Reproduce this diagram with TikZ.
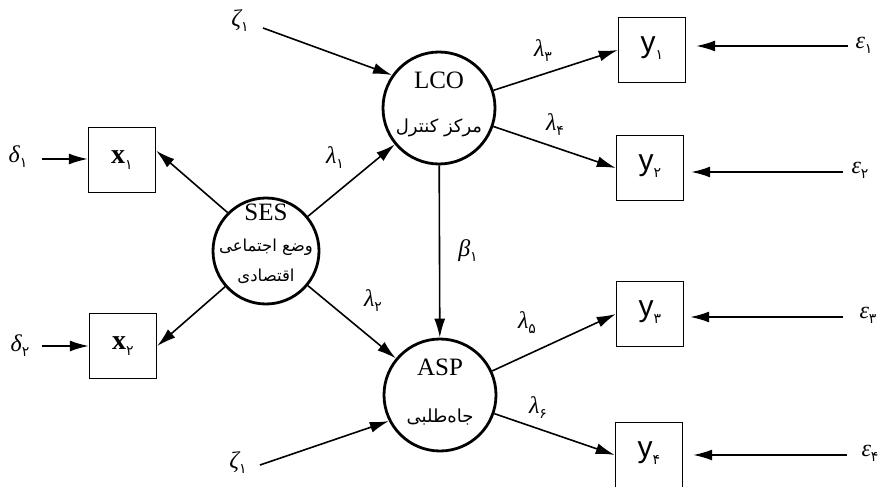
\documentclass[tikz,border=0pt]{standalone}
\usepackage{fontspec}
\setmainfont{Liberation Serif}
\newfontfamily\fa[Script=Arabic]{DejaVu Sans}
\newfontfamily\ysans{Liberation Sans}
\TeXXeTstate=1
\usetikzlibrary{arrows.meta,calc}
\newcommand\fsub[1]{\raisebox{-0.45ex}{\normalfont\fa\fontsize{14}{14}\selectfont #1}}
\tikzset{
 arr/.style={line width=1.6pt, -{Latex[length=19pt,width=11pt]}},
 lat/.style={circle, draw, line width=2.8pt, minimum size=112pt, inner sep=0pt},
 obs/.style={draw, line width=1.4pt, minimum width=67pt, minimum height=65pt, inner sep=0pt},
 gr/.style={font=\fontsize{24}{26}\selectfont\itshape, inner sep=0pt},
 lbl/.style={font=\fontsize{25}{27}\selectfont, inner sep=0pt},
 fatxt/.style={font=\fa\fontsize{18}{20}\selectfont, inner sep=0pt},
 fasm/.style={font=\fa\fontsize{16.5}{18}\selectfont, inner sep=0pt},
 xlab/.style={font=\fontsize{28}{30}\selectfont\bfseries, inner sep=0pt},
 ylab/.style={font=\ysans\fontsize{30}{32}\selectfont, inner sep=0pt},
}
\begin{document}
\begin{tikzpicture}[x=1pt,y=-1pt]
\path[use as bounding box, fill=white] (0,0) rectangle (884,487);
% latent variables
\node[lat] (lco) at (439,108) {};
\node[lat] (asp) at (440,395) {};
\node[lat, minimum size=106pt] (ses) at (266,251) {};
\node[lbl] (lcot) at (439,80) {LCO};
\node[fatxt] (lcofa) at (439,128) {\beginR مرکز کنترل\endR};
\node[lbl] (aspt) at (440,367) {ASP};
\node[fatxt] (aspfa) at (440,417) {\beginR جاه‌طلبی\endR};
\node[lbl] (sest) at (266,212) {SES};
\node[fasm] (sesfa1) at (266,247) {\beginR وضع اجتماعی\endR};
\node[fasm] (sesfa2) at (266,276) {\beginR اقتصادی\endR};
% observed variables
\node[obs] (x1) at (122,160) {};
\node[obs] (x2) at (123,346) {};
\node[obs] (y1) at (652,50) {};
\node[obs] (y2) at (650,168) {};
\node[obs] (y3) at (650,314) {};
\node[obs] (y4) at (649,455) {};
\node[xlab] (x1t) at (122,160) {x\fsub{۱}};
\node[xlab] (x2t) at (123,346) {x\fsub{۲}};
\node[ylab] (y1t) at (652,48) {y\fsub{۱}};
\node[ylab] (y2t) at (650,166) {y\fsub{۲}};
\node[ylab] (y3t) at (650,312) {y\fsub{۳}};
\node[ylab] (y4t) at (649,453) {y\fsub{۴}};
% error terms
\node[gr] (d1) at (18,157) {δ\fsub{۱}};
\node[gr] (d2) at (20,346) {δ\fsub{۲}};
\node[gr] (e1) at (864,45) {ε\fsub{۱}};
\node[gr] (e2) at (860,170) {ε\fsub{۲}};
\node[gr] (e3) at (868,315) {ε\fsub{۳}};
\node[gr] (e4) at (870,453) {ε\fsub{۴}};
\node[gr] (z1) at (240,21) {ζ\fsub{۱}};
\node[gr] (z2) at (238,463) {ζ\fsub{۱}};
% path labels
\node[gr] (l1) at (335,158) {λ\fsub{۱}};
\node[gr] (l2) at (373,301) {λ\fsub{۲}};
\node[gr] (l3) at (543,51) {λ\fsub{۳}};
\node[gr] (l4) at (555,125) {λ\fsub{۴}};
\node[gr] (l5) at (527,323) {λ\fsub{۵}};
\node[gr] (l6) at (538,408) {λ\fsub{۶}};
\node[gr] (b1) at (468,251) {β\fsub{۱}};
% free ends
\coordinate (d1a) at (42,159);
\coordinate (d2a) at (42,346);
\coordinate (e1a) at (848,46);
\coordinate (e2a) at (843,172);
\coordinate (e3a) at (843,317);
\coordinate (e4a) at (847,455);
\coordinate (z1a) at (263,28);
\coordinate (z2a) at (260,465);
% connectors
\draw[arr] (d1a) -- (x1.west |- d1a);
\draw[arr] (d2a) -- (x2.west |- d2a);
\draw[arr, shorten >=10pt] (e1a) -- (y1.east |- e1a);
\draw[arr, shorten >=7pt] (e2a) -- (y2.east |- e2a);
\draw[arr, shorten >=6pt] (e3a) -- (y3.east |- e3a);
\draw[arr, shorten >=10pt] (e4a) -- (y4.east |- e4a);
\draw[arr] (z1a) -- (lco.145);
\draw[arr] (z2a) -- (asp.207);
\draw[arr] (ses.135) -- ($(x1.north east)!0.36!(x1.south east)$);
\draw[arr] (ses) -- (x2.east);
\draw[arr] (ses) -- (lco);
\draw[arr] (ses) -- (asp);
\draw[arr] (lco) -- (asp);
\draw[arr] (lco) -- (y1.west);
\draw[arr] (lco) -- (y2.west);
\draw[arr] (asp) -- (y3.west);
\draw[arr] (asp) -- (y4.west);
\end{tikzpicture}
\end{document}
